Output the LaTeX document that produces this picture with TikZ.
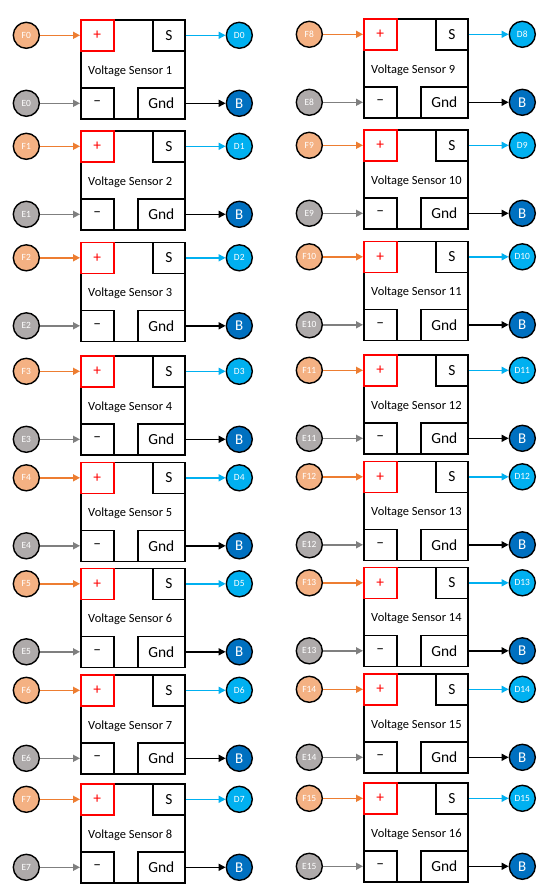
\documentclass[tikz,border=0pt]{standalone}
\usepackage{fontspec}
\setmainfont{Carlito}
\usetikzlibrary{arrows.meta, positioning}
\definecolor{fOrange}{HTML}{F4B183}
\definecolor{fLine}{HTML}{ED7D31}
\definecolor{eGray}{HTML}{AEAAAA}
\definecolor{eLine}{HTML}{7F7F7F}
\definecolor{dCyan}{HTML}{00B0F0}
\definecolor{bBlue}{HTML}{0070C0}
\tikzset{
    >={Triangle[length=7bp, width=7bp]},
    % Boxes
    sensor/.style={rectangle, draw=black, line width=1.6bp,
                   minimum width=104bp, minimum height=99bp, inner sep=0pt},
    pinBox/.style={rectangle, draw=black, line width=1.6bp, fill=white,
                   minimum height=31bp, inner sep=0pt,
                   font=\fontsize{15.5}{17}\selectfont},
    lbl/.style={inner sep=0pt, font=\fontsize{12.5}{14}\selectfont},
    % Terminals
    pinDot/.style={circle, draw=black, line width=1.4bp, minimum size=26bp,
                   inner sep=0pt, text=white, font=\fontsize{9.5}{10}\selectfont},
    % Wires
    wire/.style={->, line width=1.5bp}
}

\begin{document}
\begin{tikzpicture}[x=1bp, y=-1bp, node distance=40bp]
\useasboundingbox (0,0) rectangle (550,892);

\foreach \n/\bx/\ty in {1/80/19, 2/80/130, 3/80/241.5, 4/80/355,
                        5/80/461.5, 6/80/567.5, 7/80/674, 8/80/783,
                        9/363/18, 10/363/129, 11/363/240.5, 12/363/354,
                        13/363/460.5, 14/363/566.5, 15/363/673, 16/363/782}{
  \pgfmathtruncatemacro{\k}{\n-1}
  \node[sensor, anchor=north west] (sensor\n) at (\bx,\ty) {};
  \node[pinBox, draw=red, text=red, minimum width=33bp, anchor=north west]
      (plus\n) at (sensor\n.north west) {+};
  \node[pinBox, minimum width=32bp, anchor=north east] (s\n) at (sensor\n.north east) {S};
  \node[pinBox, minimum width=33bp, anchor=south west] (minus\n) at (sensor\n.south west) {--};
  \node[pinBox, minimum width=47bp, anchor=south east] (gnd\n) at (sensor\n.south east) {Gnd};
  \node[lbl, anchor=west] (name\n) at ([xshift=8bp, yshift=-1.5bp]sensor\n.west) {Voltage Sensor \n};

  \node[pinDot, fill=fOrange, left=of plus\n] (f\n) {F\k};
  \node[pinDot, fill=eGray, left=of minus\n] (e\n) {E\k};
  \node[pinDot, fill=dCyan, right=of s\n] (d\n) {D\k};
  \node[pinDot, fill=bBlue, right=of gnd\n, font=\fontsize{15}{16}\selectfont] (b\n) {B};

  \draw[wire, fLine] (f\n) -- (plus\n);
  \draw[wire, eLine] (e\n) -- (minus\n);
  \draw[wire, dCyan] (s\n) -- (d\n);
  \draw[wire, black] (gnd\n) -- (b\n);
}

\end{tikzpicture}
\end{document}
